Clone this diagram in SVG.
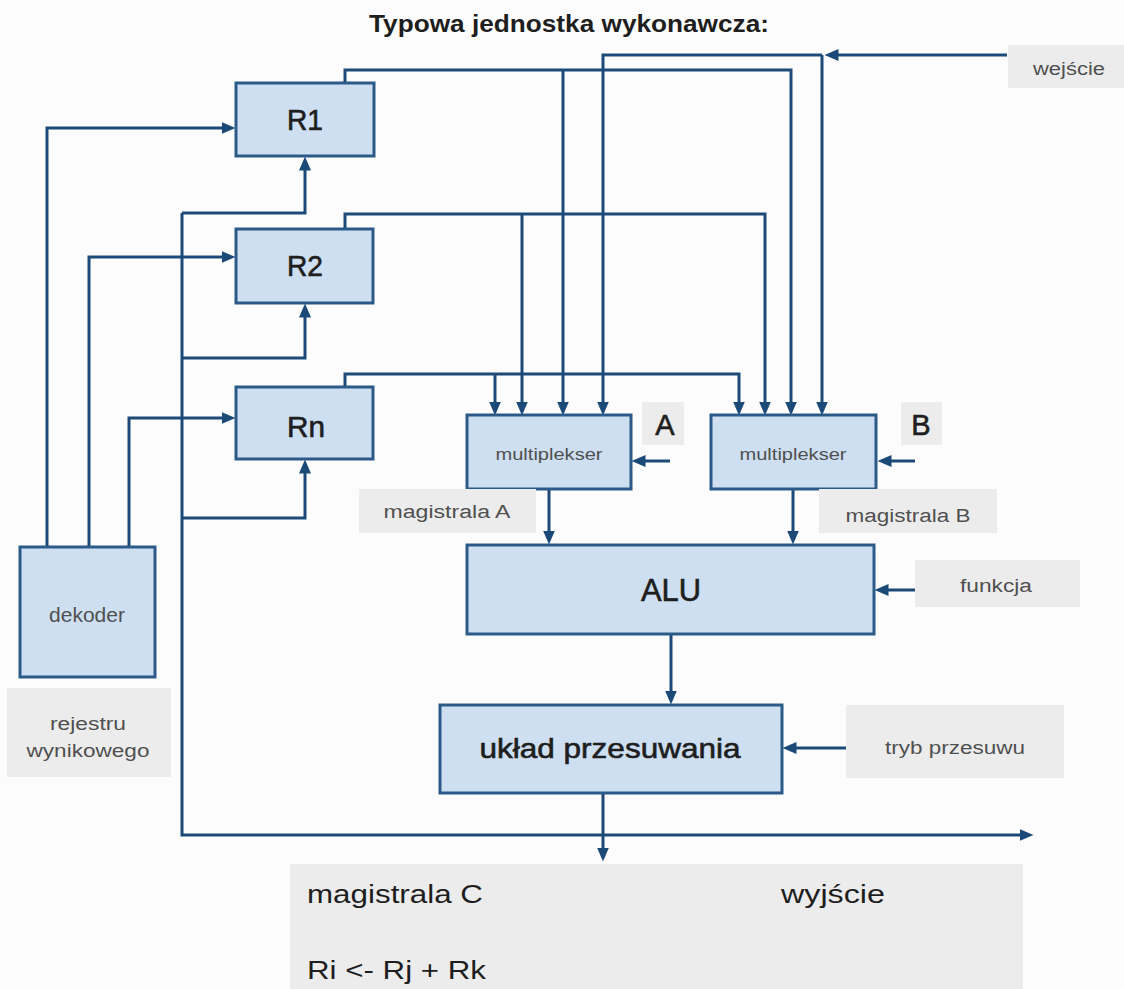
<svg xmlns="http://www.w3.org/2000/svg" width="1124" height="989" viewBox="0 0 1124 989">
<style>
.bx{fill:#cddff1;stroke:#2c5a88;stroke-width:3}
.lb{fill:#ececec}
.ln{fill:none;stroke:#1c4a78;stroke-width:3}
.t{font-family:"Liberation Sans",Arial,sans-serif;fill:#1e1e1e}
.s{stroke:#1e1e1e;stroke-width:0.6}
.g{font-family:"Liberation Sans",Arial,sans-serif;fill:#505050}
</style>
<defs>
<marker id="ah" markerUnits="userSpaceOnUse" markerWidth="15" markerHeight="13" refX="0.5" refY="6.5" orient="auto">
<path d="M0,0.5 L14,6.5 L0,12.5 Z" fill="#1c4a78"/>
</marker>
</defs>
<rect width="1124" height="989" fill="#fcfcfc"/>
<text class="t" x="569" y="32" font-size="24" font-weight="bold" text-anchor="middle" textLength="400" lengthAdjust="spacingAndGlyphs">Typowa jednostka wykonawcza:</text>

<g id="connectors">
<path class="ln" d="M1007,55 H838" marker-end="url(#ah)"/>
<path class="ln" d="M822,55 H603 V402" marker-end="url(#ah)"/>
<path class="ln" d="M822,55 V402" marker-end="url(#ah)"/>
<path class="ln" d="M345,83 V70 H791 V402" marker-end="url(#ah)"/>
<path class="ln" d="M563,70 V402" marker-end="url(#ah)"/>
<path class="ln" d="M345,229 V214 H765 V402" marker-end="url(#ah)"/>
<path class="ln" d="M522,214 V402" marker-end="url(#ah)"/>
<path class="ln" d="M345,387 V374 H739 V402" marker-end="url(#ah)"/>
<path class="ln" d="M495,374 V402" marker-end="url(#ah)"/>
<path class="ln" d="M670,461 H645" marker-end="url(#ah)"/>
<path class="ln" d="M915,461 H891" marker-end="url(#ah)"/>
<path class="ln" d="M549,489 V531" marker-end="url(#ah)"/>
<path class="ln" d="M793,489 V531" marker-end="url(#ah)"/>
<path class="ln" d="M915,590 H888" marker-end="url(#ah)"/>
<path class="ln" d="M671,634 V691" marker-end="url(#ah)"/>
<path class="ln" d="M846,748 H796" marker-end="url(#ah)"/>
<path class="ln" d="M603,793 V848" marker-end="url(#ah)"/>
<path class="ln" d="M182,213 V835 H1020" marker-end="url(#ah)"/>
<path class="ln" d="M182,213 H305 V170" marker-end="url(#ah)"/>
<path class="ln" d="M182,358 H305 V317" marker-end="url(#ah)"/>
<path class="ln" d="M182,518 H305 V473" marker-end="url(#ah)"/>
<path class="ln" d="M47,547 V128 H222" marker-end="url(#ah)"/>
<path class="ln" d="M89,547 V257 H222" marker-end="url(#ah)"/>
<path class="ln" d="M129,547 V418 H222" marker-end="url(#ah)"/>
</g>

<g id="R1">
<rect class="bx" x="236" y="83" width="138" height="73"/>
<text class="t s" x="305" y="130" font-size="29" text-anchor="middle" textLength="36" lengthAdjust="spacingAndGlyphs">R1</text>
</g>
<g id="R2">
<rect class="bx" x="236" y="229" width="137" height="74"/>
<text class="t s" x="305" y="276" font-size="29" text-anchor="middle" textLength="36" lengthAdjust="spacingAndGlyphs">R2</text>
</g>
<g id="Rn">
<rect class="bx" x="236" y="387" width="137" height="72"/>
<text class="t s" x="306" y="437" font-size="29" text-anchor="middle" textLength="38" lengthAdjust="spacingAndGlyphs">Rn</text>
</g>
<g id="dekoder">
<rect class="bx" x="20" y="547" width="135" height="130"/>
<text class="g" x="87" y="622" font-size="21" text-anchor="middle" fill="#444">dekoder</text>
</g>
<g id="rejestru">
<rect class="lb" x="7" y="688" width="164" height="89"/>
<text class="g" x="88" y="730" font-size="18" text-anchor="middle" textLength="76" lengthAdjust="spacingAndGlyphs">rejestru</text>
<text class="g" x="88" y="757" font-size="18" text-anchor="middle" textLength="123" lengthAdjust="spacingAndGlyphs">wynikowego</text>
</g>
<g id="muxA">
<rect class="bx" x="467" y="415" width="164" height="74"/>
<text class="g" x="549" y="460" font-size="16" text-anchor="middle" textLength="107" lengthAdjust="spacingAndGlyphs" fill="#444">multiplekser</text>
</g>
<g id="labelA">
<rect class="lb" x="642" y="402" width="42" height="43"/>
<text class="t s" x="665" y="435" font-size="29" text-anchor="middle">A</text>
</g>
<g id="muxB">
<rect class="bx" x="711" y="415" width="165" height="74"/>
<text class="g" x="793" y="460" font-size="16" text-anchor="middle" textLength="107" lengthAdjust="spacingAndGlyphs" fill="#444">multiplekser</text>
</g>
<g id="labelB">
<rect class="lb" x="901" y="402" width="41" height="43"/>
<text class="t s" x="921" y="435" font-size="29" text-anchor="middle">B</text>
</g>
<g id="magA">
<rect class="lb" x="359" y="489" width="177" height="44"/>
<text class="g" x="447" y="518" font-size="18" text-anchor="middle" textLength="127" lengthAdjust="spacingAndGlyphs">magistrala A</text>
</g>
<g id="magB">
<rect class="lb" x="819" y="489" width="178" height="44"/>
<text class="g" x="908" y="522" font-size="18" text-anchor="middle" textLength="125" lengthAdjust="spacingAndGlyphs">magistrala B</text>
</g>
<g id="ALU">
<rect class="bx" x="467" y="545" width="407" height="89"/>
<text class="t s" x="671" y="601" font-size="31" text-anchor="middle" textLength="60" lengthAdjust="spacingAndGlyphs">ALU</text>
</g>
<g id="funkcja">
<rect class="lb" x="915" y="560" width="165" height="47"/>
<text class="g" x="996" y="592" font-size="18" text-anchor="middle" textLength="72" lengthAdjust="spacingAndGlyphs">funkcja</text>
</g>
<g id="uklad">
<rect class="bx" x="440" y="705" width="342" height="88"/>
<text class="t s" x="610" y="758" font-size="28" text-anchor="middle" textLength="261" lengthAdjust="spacingAndGlyphs">układ przesuwania</text>
</g>
<g id="tryb">
<rect class="lb" x="846" y="705" width="218" height="73"/>
<text class="g" x="955" y="754" font-size="18" text-anchor="middle" textLength="140" lengthAdjust="spacingAndGlyphs">tryb przesuwu</text>
</g>
<g id="wejscie">
<rect class="lb" x="1008" y="45" width="116" height="43"/>
<text class="g" x="1069" y="75" font-size="18" text-anchor="middle" textLength="72" lengthAdjust="spacingAndGlyphs">wejście</text>
</g>
<g id="magC">
<rect class="lb" x="290" y="864" width="733" height="125"/>
<text class="t" x="307" y="903" font-size="25" textLength="176" lengthAdjust="spacingAndGlyphs">magistrala C</text>
<text class="t" x="781" y="903" font-size="25" textLength="104" lengthAdjust="spacingAndGlyphs">wyjście</text>
<text class="t" x="307" y="979" font-size="25" textLength="179" lengthAdjust="spacingAndGlyphs">Ri &lt;- Rj + Rk</text>
</g>
</svg>
